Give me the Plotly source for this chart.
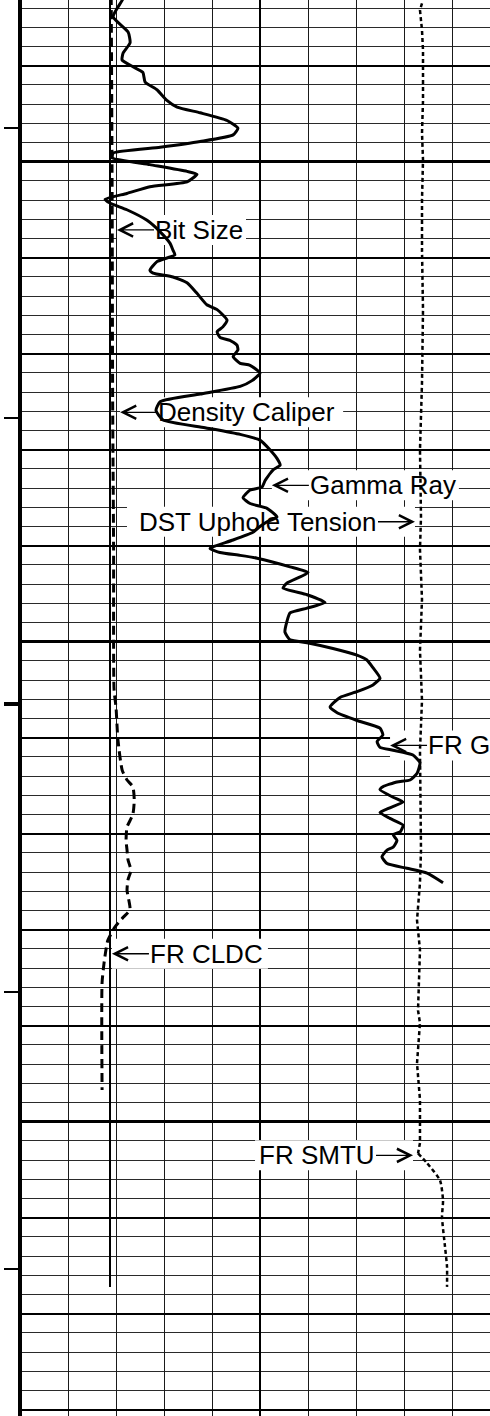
import plotly.graph_objects as go

# ---------------- data ----------------
gr_depth = [5082.7, 5083.2, 5084.9, 5086.5, 5087.6, 5088.7, 5089.4, 5090.1, 5090.7, 5091.7,
            5092.5, 5093.6, 5094.3, 5094.9, 5095.7, 5096.5, 5097.2, 5097.9, 5098.5, 5099.1,
            5099.6, 5100.3, 5101.0, 5101.3, 5102.1, 5102.6, 5103.3, 5103.9, 5104.3, 5105.0,
            5106.1, 5107.3, 5108.5, 5109.2, 5109.7, 5110.4, 5111.3, 5111.6, 5112.0, 5112.6,
            5113.7, 5114.9, 5115.4, 5116.5, 5117.2, 5117.7, 5118.3, 5118.6, 5119.1, 5119.6,
            5120.3, 5121.0, 5121.2, 5122.0, 5122.8, 5123.4, 5124.2, 5125.0, 5125.9, 5126.9,
            5127.7, 5128.4, 5129.0, 5130.0, 5130.9, 5131.6, 5132.1, 5133.2, 5133.9, 5134.2,
            5135.0, 5135.6, 5136.1, 5137.0, 5137.5, 5138.0, 5138.6, 5139.4, 5140.1, 5140.3,
            5140.7, 5141.0, 5141.3, 5142.2, 5142.8, 5143.9, 5144.4, 5145.1, 5145.9, 5146.5,
            5147.0, 5147.9, 5149.0, 5149.8, 5150.1, 5150.7, 5151.4, 5151.9, 5152.7, 5153.8,
            5154.5, 5155.2, 5155.8, 5156.8, 5157.4, 5158.2, 5159.0, 5159.7, 5160.4, 5161.0,
            5161.3, 5161.8, 5162.6, 5163.7, 5164.4, 5164.6, 5165.1, 5165.4, 5166.2, 5166.7,
            5167.3, 5167.8, 5168.4, 5169.1, 5169.8, 5170.1, 5170.7, 5171.4, 5171.7, 5172.4,
            5173.1, 5173.6, 5174.1, 5175.1]
gr_api = [32.5, 31.9, 29.1, 33.8, 34.4, 32.2, 31.9, 35.3, 38.4, 39.1,
          42.8, 45.9, 49.1, 56.3, 64.7, 68.1, 66.6, 56.3, 43.8, 29.1,
          28.8, 40.6, 52.2, 55.3, 52.2, 40.6, 33.4, 26.6, 28.1, 33.4,
          39.7, 43.8, 46.9, 47.8, 48.4, 42.8, 40.6, 41.6, 47.8, 52.2,
          55.3, 58.4, 61.6, 64.7, 63.4, 61.6, 62.5, 65.6, 67.8, 68.1,
          66.6, 68.8, 71.9, 75.0, 72.5, 68.8, 56.3, 43.8, 42.5, 44.7,
          57.8, 68.8, 75.0, 78.1, 80.3, 81.3, 79.1, 76.6, 75.6, 71.9,
          69.7, 71.9, 77.2, 80.3, 77.2, 75.0, 72.8, 66.6, 60.3, 59.4,
          62.5, 68.8, 74.1, 84.4, 90.0, 83.4, 82.2, 89.7, 95.3, 89.7,
          84.4, 83.4, 82.8, 84.4, 89.7, 97.8, 105.3, 108.4, 110.3, 112.5,
          110.3, 105.3, 100.0, 96.9, 99.1, 105.3, 112.5, 113.4, 111.6, 112.5,
          116.6, 122.8, 125.0, 124.1, 121.9, 117.8, 113.4, 112.5, 116.6, 119.7,
          115.6, 112.5, 115.6, 119.7, 118.8, 116.6, 117.8, 116.6, 114.7, 113.1,
          114.7, 120.9, 127.2, 132.2]

cal_depth = [5082.7, 5104.0, 5124.8, 5140.4, 5155.0, 5156.8, 5160.2, 5163.4, 5164.4, 5165.1,
             5166.5, 5168.0, 5169.3, 5170.7, 5171.7, 5172.7, 5173.8, 5174.8, 5175.9, 5177.9,
             5178.7, 5179.7, 5181.1, 5182.1, 5183.5, 5185.5, 5196.7]
cal_in = [7.90, 7.92, 7.93, 7.95, 7.96, 8.00, 8.04, 8.13, 8.23, 8.35,
          8.38, 8.35, 8.23, 8.21, 8.23, 8.25, 8.31, 8.25, 8.23, 8.29,
          8.15, 7.98, 7.83, 7.79, 7.75, 7.71, 7.71]

bit_depth = [5082.7, 5217.2]
bit_in = [7.875, 7.875]

dst_depth = [5083.5, 5084.2, 5086.3, 5088.4, 5093.6, 5097.0, 5099.8, 5104.0, 5109.2, 5115.4,
             5123.0, 5130.0, 5137.0, 5140.4, 5145.6, 5150.9, 5156.1, 5161.3, 5171.7, 5175.1,
             5179.0, 5182.1, 5188.4, 5189.7, 5193.9, 5197.7, 5202.2, 5203.3]
dst_klbf = [8.375, 8.333, 8.375, 8.396, 8.396, 8.375, 8.396, 8.375, 8.375, 8.396,
            8.375, 8.333, 8.354, 8.333, 8.375, 8.333, 8.375, 8.333, 8.354, 8.333,
            8.271, 8.333, 8.292, 8.333, 8.271, 8.333, 8.333, 8.292]

smtu_depth = [5203.3, 5204.3, 5206.1, 5208.2, 5209.9, 5213.0, 5215.1, 5217.2]
smtu_klbf = [8.292, 8.479, 8.750, 8.813, 8.792, 8.854, 8.896, 8.896]

depth_top = 5083.15
depth_bottom = 5230.65
tick_depths = [5096.45, 5126.7, 5186.45, 5215.3]
tick_depths_heavy = [5156.5]

label_text = ["Bit Size", "Density Caliper", "Gamma Ray", "DST Uphole Tension",
              "FR GR", "FR CLDC", "FR SMTU"]
label_axis = ["x2", "x2", "x", "x3", "x", "x2", "x3"]
label_value = [7.875, 7.93, 75.9, 8.354, 112.2, 7.78, 8.292]
label_depth = [5107.1, 5126.1, 5133.7, 5137.5, 5160.8, 5182.5, 5203.5]
label_standoff = [7, 7.5, 9, 6, 11, 6.5, 5]
label_side = [1, 1, 1, -1, 1, 1, -1]
label_width = [88, 182, 146, 247, 82, 115, 117]

# ---------------- layout constants ----------------
W, H = 490, 1416
ML = 20
TRACK_PX = 480.0
frac = (W - ML) / TRACK_PX
ARROW_LEN = 37
FONT = "Liberation Sans, Arial, sans-serif"
TRACKS = {"x": (0.0, 150.0), "x2": (6.0, 16.0), "x3": (0.0, 10.0)}


def vis(ax_id):
    lo, hi = TRACKS[ax_id]
    return [lo, lo + (hi - lo) * frac]


def to_main(ax_id, v):
    lo, hi = TRACKS[ax_id]
    mlo, mhi = TRACKS["x"]
    return mlo + (v - lo) / (hi - lo) * (mhi - mlo)


fig = go.Figure()

fig.add_trace(go.Scatter(x=bit_in, y=bit_depth, xaxis="x2", yaxis="y2", mode="lines",
                         name="Bit Size", line=dict(color="black", width=2)))
fig.add_trace(go.Scatter(x=cal_in, y=cal_depth, xaxis="x2", yaxis="y2", mode="lines",
                         name="Density Caliper",
                         line=dict(color="black", width=3, dash="9px,5px",
                                   shape="spline", smoothing=0.6)))
fig.add_trace(go.Scatter(x=dst_klbf, y=dst_depth, xaxis="x3", yaxis="y3", mode="lines",
                         name="DST Uphole Tension",
                         line=dict(color="black", width=2.5, dash="4px,3px")))
fig.add_trace(go.Scatter(x=smtu_klbf, y=smtu_depth, xaxis="x3", yaxis="y4", mode="lines",
                         name="FR SMTU",
                         line=dict(color="black", width=2.5, dash="4px,3px",
                                   shape="spline", smoothing=0.6)))
fig.add_trace(go.Scatter(x=gr_api, y=gr_depth, xaxis="x", yaxis="y", mode="lines",
                         name="Gamma Ray",
                         line=dict(color="black", width=3, shape="spline", smoothing=0.5)))

yr = [depth_bottom, depth_top]
common_y = dict(range=yr, autorange=False, showticklabels=False, zeroline=False,
                showline=False, fixedrange=True)
common_x = dict(showticklabels=False, zeroline=False, showline=False, ticks="",
                fixedrange=True, autorange=False)

annotations = []
shapes = []
for txt, ax_id, val, dep, so, side, w in zip(label_text, label_axis, label_value,
                                              label_depth, label_standoff, label_side,
                                              label_width):
    tail = side * (so + ARROW_LEN)
    annotations.append(dict(
        text=txt, xref=ax_id, yref="y", x=val, y=dep,
        showarrow=True, arrowhead=5, arrowsize=2, arrowwidth=1.3, arrowcolor="black",
        standoff=so, ax=tail, ay=0, axref="pixel", ayref="pixel",
        xanchor="left" if side > 0 else "right", yanchor="middle",
        font=dict(family=FONT, size=26, color="black"),
        borderpad=1, borderwidth=0, bgcolor="rgba(0,0,0,0)"))
    far = side * (so + ARROW_LEN + w + 4)
    near = side * so
    shapes.append(dict(
        type="rect", xref="x", yref="y", layer="between",
        xsizemode="pixel", ysizemode="pixel",
        xanchor=to_main(ax_id, val), yanchor=dep,
        x0=min(near, far), x1=max(near, far), y0=-15, y1=15,
        fillcolor="white", line=dict(width=0)))

shapes.append(dict(type="line", xref="paper", yref="paper", x0=0, x1=0, y0=0, y1=1,
                   line=dict(color="black", width=4), layer="above"))

fig.update_layout(
    width=W, height=H, autosize=False,
    margin=dict(l=ML, r=0, t=0, b=0, pad=0),
    paper_bgcolor="white", plot_bgcolor="white",
    showlegend=False, hovermode=False,
    xaxis=dict(range=vis("x"), tickmode="linear", tick0=0, dtick=15,
               showgrid=True, gridcolor="#1a1a1a", gridwidth=1, **common_x),
    xaxis2=dict(range=vis("x2"), overlaying="x", anchor="y", tickmode="array",
                tickvals=[11], showgrid=True, gridcolor="black", gridwidth=2, **common_x),
    xaxis3=dict(range=vis("x3"), overlaying="x", anchor="y", showgrid=False, **common_x),
    yaxis=dict(tickmode="linear", tick0=5100, dtick=10, showgrid=True, gridcolor="black",
               gridwidth=2, ticks="",
               minor=dict(tickmode="linear", tick0=5100, dtick=2, showgrid=True,
                          gridcolor="#2a2a2a", gridwidth=1, ticks=""),
               **common_y),
    yaxis2=dict(overlaying="y", anchor="x", side="left", tickmode="linear", tick0=5100,
                dtick=50, showgrid=True, gridcolor="black", gridwidth=3, ticks="",
                **common_y),
    yaxis3=dict(overlaying="y", anchor="x", side="left", tickmode="array",
                tickvals=tick_depths, ticks="outside", ticklen=15, tickwidth=2,
                tickcolor="black", showgrid=False, **common_y),
    yaxis4=dict(overlaying="y", anchor="x", side="left", tickmode="array",
                tickvals=tick_depths_heavy, ticks="outside", ticklen=15, tickwidth=4,
                tickcolor="black", showgrid=False, **common_y),
    annotations=annotations,
    shapes=shapes,
)

fig.write_html("out.html", config={"displayModeBar": False})
